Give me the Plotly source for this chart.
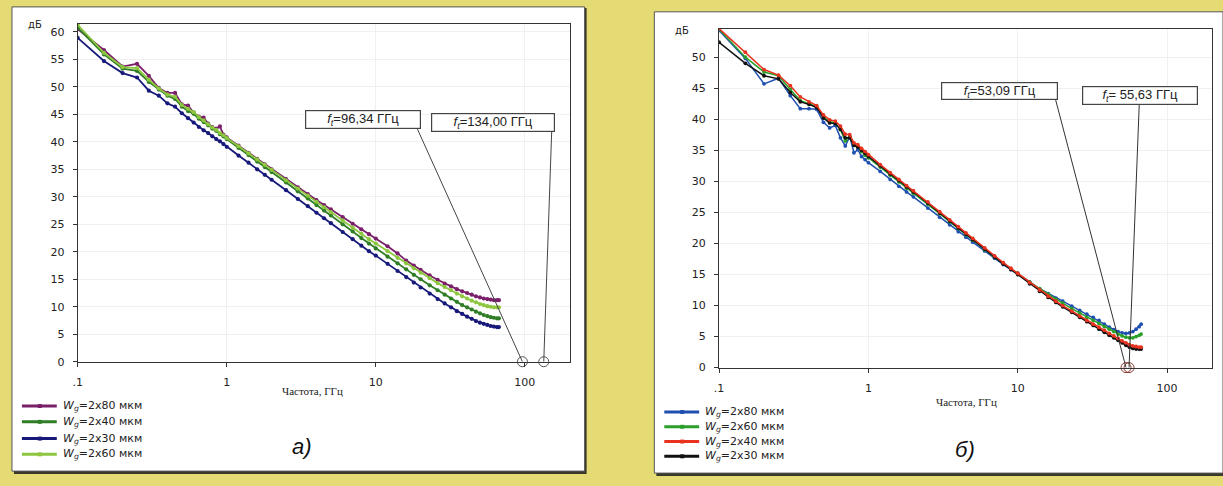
import math
import plotly.graph_objects as go

# ---------------- data ----------------
freq = [0.1, 0.15, 0.2, 0.25, 0.3, 0.35, 0.4, 0.45, 0.5, 0.55, 0.6, 0.65, 0.7, 0.75,
        0.8, 0.85, 0.9, 0.95, 1.0, 1.2, 1.4, 1.6, 1.8, 2.0, 2.5, 3.0, 3.5, 4.0, 4.5,
        5.0, 6, 7, 8, 9, 10, 12, 14, 16, 18, 20, 23, 26, 29, 32, 35, 38, 41, 44, 47,
        50, 53, 56, 59, 62, 65, 67]

# panel a)
a_names = ["2x80", "2x40", "2x30", "2x60"]
a_wg80 = [60.5, 56.7, 53.7, 54.2, 52.0, 49.8, 48.9, 48.9, 46.8, 46.6, 45.3, 44.6, 44.4, 43.3,
          42.7, 42.4, 42.8, 41.3, 40.8, 39.3, 38.0, 36.9, 35.9, 35.0, 33.2, 31.7, 30.5, 29.4, 28.5,
          27.7, 26.3, 25.1, 24.1, 23.2, 22.4, 21.0, 19.7, 18.4, 17.5, 16.7, 15.7, 14.9, 14.2, 13.7,
          13.2, 12.8, 12.5, 12.2, 11.9, 11.7, 11.5, 11.4, 11.3, 11.2, 11.2, 11.2]
a_wg40 = [60.8, 55.9, 53.3, 52.9, 50.9, 49.5, 48.4, 47.8, 46.4, 45.6, 45.1, 44.2, 43.6, 43.0,
          42.4, 42.0, 41.4, 41.0, 40.5, 38.9, 37.6, 36.4, 35.4, 34.5, 32.6, 31.0, 29.7, 28.5, 27.5,
          26.6, 25.0, 23.7, 22.5, 21.5, 20.6, 19.1, 17.9, 16.8, 15.8, 15.0, 13.9, 13.0, 12.2, 11.5,
          10.9, 10.3, 9.9, 9.5, 9.1, 8.8, 8.5, 8.3, 8.1, 8.0, 7.9, 7.9]
a_wg30 = [58.9, 54.7, 52.5, 51.7, 49.3, 48.4, 47.0, 46.4, 45.2, 44.3, 43.5, 42.7, 42.1, 41.6,
          41.0, 40.5, 40.1, 39.6, 39.1, 37.5, 36.2, 35.0, 34.0, 33.1, 31.2, 29.6, 28.3, 27.1, 26.1,
          25.2, 23.6, 22.3, 21.1, 20.1, 19.3, 17.8, 16.5, 15.4, 14.4, 13.5, 12.4, 11.4, 10.6, 9.9,
          9.2, 8.7, 8.2, 7.8, 7.4, 7.1, 6.9, 6.7, 6.5, 6.4, 6.3, 6.3]
a_wg60 = [61.3, 56.2, 53.6, 53.4, 51.3, 49.7, 48.6, 48.2, 46.7, 46.0, 45.4, 44.5, 43.9, 43.2,
          42.6, 42.2, 41.6, 41.2, 40.7, 39.2, 37.9, 36.8, 35.8, 34.9, 33.0, 31.5, 30.2, 29.1, 28.1,
          27.2, 25.7, 24.4, 23.3, 22.3, 21.5, 20.1, 18.9, 17.9, 17.0, 16.2, 15.2, 14.3, 13.6, 13.0,
          12.4, 11.9, 11.5, 11.1, 10.8, 10.5, 10.3, 10.1, 10.0, 9.9, 9.9, 9.9]
a_ft = [96.34, 134.00]
a_ft_labels = ["96,34", "134,00"]

# panel б)
b_names = ["2x80", "2x60", "2x40", "2x30"]
b_wg80 = [54.3, 49.8, 45.7, 46.6, 43.8, 41.7, 41.7, 41.6, 39.5, 38.6, 39.0, 37.0, 35.7, 37.2,
          34.6, 35.1, 34.0, 33.5, 33.0, 31.6, 30.3, 29.2, 28.3, 27.5, 25.7, 24.2, 23.0, 21.9, 21.0,
          20.2, 18.8, 17.6, 16.6, 15.8, 15.1, 13.8, 12.7, 11.9, 11.2, 10.7, 9.9, 9.2, 8.6, 8.1,
          7.6, 7.0, 6.5, 6.1, 5.8, 5.6, 5.5, 5.6, 5.8, 6.2, 6.6, 7.0]
b_wg60 = [54.5, 50.0, 47.6, 47.0, 44.8, 43.0, 42.5, 42.0, 40.4, 39.6, 39.4, 38.3, 36.5, 37.2,
          35.8, 35.6, 34.8, 34.2, 33.8, 32.3, 31.0, 29.9, 28.9, 28.1, 26.3, 24.8, 23.5, 22.4, 21.4,
          20.5, 19.0, 17.8, 16.8, 15.9, 15.2, 13.8, 12.7, 11.8, 11.0, 10.4, 9.5, 8.8, 8.1, 7.6,
          7.1, 6.6, 6.2, 5.8, 5.4, 5.1, 4.9, 4.8, 4.8, 5.0, 5.2, 5.4]
b_wg40 = [54.6, 50.8, 48.0, 47.1, 45.4, 43.6, 42.8, 42.2, 40.7, 39.9, 39.7, 38.9, 37.6, 37.5,
          36.2, 35.9, 35.3, 34.8, 34.3, 32.7, 31.4, 30.3, 29.3, 28.5, 26.7, 25.1, 23.8, 22.7, 21.7,
          20.8, 19.3, 18.0, 16.9, 16.0, 15.2, 13.7, 12.5, 11.5, 10.7, 10.0, 9.1, 8.3, 7.6, 7.0,
          6.5, 6.0, 5.5, 5.1, 4.7, 4.3, 4.0, 3.7, 3.5, 3.4, 3.3, 3.3]
b_wg30 = [52.4, 49.0, 47.0, 46.5, 44.3, 42.8, 42.4, 41.9, 40.2, 39.4, 39.3, 38.4, 37.0, 37.0,
          35.8, 35.5, 35.0, 34.5, 34.0, 32.5, 31.2, 30.1, 29.1, 28.3, 26.5, 24.9, 23.6, 22.5, 21.5,
          20.6, 19.1, 17.8, 16.7, 15.8, 15.0, 13.5, 12.3, 11.3, 10.5, 9.8, 8.9, 8.1, 7.4, 6.8,
          6.2, 5.7, 5.2, 4.8, 4.4, 4.0, 3.6, 3.3, 3.1, 3.0, 3.0, 3.0]
b_ft = [53.09, 55.63]
b_ft_labels = ["53,09", "55,63"]

x_ticks = [0.1, 1, 10, 100]
x_ticktext = [".1", "1", "10", "100"]

# ---------------- styling ----------------
W, H = 1223, 486
def PX(x): return x / W
def PY(y): return 1 - y / H

a_colors = ["#7a1f6a", "#2f7d25", "#17197a", "#8dc63f"]
b_colors = ["#1f4fb0", "#2aa02a", "#e8321e", "#111111"]
a_order = [0, 1, 2, 3]
b_order = [0, 1, 3, 2]

fig = go.Figure()

a_series = [a_wg80, a_wg40, a_wg30, a_wg60]
b_series = [b_wg80, b_wg60, b_wg40, b_wg30]

for i in a_order:
    fig.add_trace(go.Scatter(x=freq, y=a_series[i], mode="lines+markers",
                             line=dict(color=a_colors[i], width=1.8),
                             marker=dict(color=a_colors[i], size=4.2),
                             xaxis="x", yaxis="y", showlegend=False))
for i in b_order:
    fig.add_trace(go.Scatter(x=freq, y=b_series[i], mode="lines+markers",
                             line=dict(color=b_colors[i], width=1.5),
                             marker=dict(color=b_colors[i], size=3.8),
                             xaxis="x2", yaxis="y2", showlegend=False))

# f_t circles
fig.add_trace(go.Scatter(x=a_ft, y=[0, 0], mode="markers", cliponaxis=False,
                         marker=dict(symbol="circle-open", size=10, color="#555", line=dict(width=1)),
                         xaxis="x", yaxis="y", showlegend=False))
fig.add_trace(go.Scatter(x=b_ft, y=[0, 0], mode="markers", cliponaxis=False,
                         marker=dict(symbol="circle-open", size=10, color="#8a3a30", line=dict(width=1)),
                         xaxis="x2", yaxis="y2", showlegend=False))

shapes = []
# yellow-framed white panels with shadow
for (x0, y0, x1, y1) in [(7, 7, 582, 478), (652, 12, 1223, 480)]:
    shapes.append(dict(type="rect", xref="paper", yref="paper", layer="below",
                       x0=PX(x0 + 2), x1=PX(x1 + 2), y0=PY(y1 + 3), y1=PY(y0 + 1),
                       fillcolor="#3a3a2a", line=dict(width=0)))
    shapes.append(dict(type="rect", xref="paper", yref="paper", layer="below",
                       x0=PX(x0), x1=PX(x1), y0=PY(y1), y1=PY(y0),
                       fillcolor="white", line=dict(color="#555", width=1)))

# leader lines (label corner given in data space of each panel)
a_corners = [(19.05, 42.3), (151.4, 41.8)]
b_corners = [(17.9, 43.2), (65.1, 42.4)]
for ft, (cx, cy) in zip(a_ft, a_corners):
    shapes.append(dict(type="line", xref="x", yref="y", x0=ft, y0=0, x1=cx, y1=cy,
                       line=dict(color="#444", width=1)))
for ft, (cx, cy) in zip(b_ft, b_corners):
    shapes.append(dict(type="line", xref="x2", yref="y2", x0=ft, y0=0, x1=cx, y1=cy,
                       line=dict(color="#333", width=1)))

annotations = []
# f_t label boxes: (left, top, right, bottom) in pixels
a_boxes = [(301, 112, 417, 131), (428, 115, 552, 134)]
b_boxes = [(940, 83, 1057, 101), (1082, 87, 1198, 106)]
for lab, (l, t, r, b) in zip(a_ft_labels, a_boxes):
    annotations.append(dict(xref="paper", yref="paper", x=PX((l + r) / 2), y=PY((t + b) / 2),
                            xanchor="center", yanchor="middle", showarrow=False,
                            text="<i>f<sub>t</sub></i>=" + lab + " ГГц",
                            width=r - l - 4, height=b - t - 4, bgcolor="white",
                            bordercolor="#444", borderwidth=1.2, borderpad=1,
                            font=dict(family="Liberation Sans", size=13, color="#222")))
for k, (lab, (l, t, r, b)) in enumerate(zip(b_ft_labels, b_boxes)):
    sep = "=" if k == 0 else "= "
    annotations.append(dict(xref="paper", yref="paper", x=PX((l + r) / 2), y=PY((t + b) / 2),
                            xanchor="center", yanchor="middle", showarrow=False,
                            text="<i>f<sub>t</sub></i>" + sep + lab + " ГГц",
                            width=r - l - 4, height=b - t - 4, bgcolor="white",
                            bordercolor="#444", borderwidth=1.2, borderpad=1,
                            font=dict(family="Liberation Sans", size=13, color="#222")))

# axis captions
for (x, y) in [(30, 25), (680, 31)]:
    annotations.append(dict(xref="paper", yref="paper", x=PX(x), y=PY(y), showarrow=False,
                            xanchor="center", yanchor="middle", text="дБ",
                            font=dict(family="DejaVu Sans", size=10, color="#222")))
for (x, y) in [(309, 397), (965, 408)]:
    annotations.append(dict(xref="paper", yref="paper", x=PX(x), y=PY(y), showarrow=False,
                            xanchor="center", yanchor="middle", text="Частота, ГГц",
                            font=dict(family="Liberation Serif", size=11, color="#222")))
for (x, y, t) in [(298, 453, "а)"), (964, 456, "б)")]:
    annotations.append(dict(xref="paper", yref="paper", x=PX(x), y=PY(y), showarrow=False,
                            xanchor="center", yanchor="middle", text="<i>" + t + "</i>",
                            font=dict(family="Liberation Sans", size=22, color="#111")))

# manual legends
def legend(names, colors, x0, ys):
    for nm, col, y in zip(names, colors, ys):
        shapes.append(dict(type="line", xref="paper", yref="paper",
                           x0=PX(x0), x1=PX(x0 + 35), y0=PY(y), y1=PY(y),
                           line=dict(color=col, width=3)))
        shapes.append(dict(type="rect", xref="paper", yref="paper",
                           x0=PX(x0 + 16), x1=PX(x0 + 20), y0=PY(y + 2), y1=PY(y - 2),
                           fillcolor=col, line=dict(width=0)))
        annotations.append(dict(xref="paper", yref="paper", x=PX(x0 + 39), y=PY(y),
                                xanchor="left", yanchor="middle", showarrow=False,
                                text="<i>W<sub>g</sub></i>=" + nm + " мкм",
                                font=dict(family="DejaVu Sans", size=11, color="#222")))

legend(a_names, a_colors, 17, [412, 428, 445, 461])
legend(b_names, b_colors, 662, [418, 433, 448, 463])

axis_common = dict(showline=True, mirror=True, linecolor="#333", linewidth=1.2,
                   ticks="outside", ticklen=4, tickcolor="#333", showgrid=True,
                   gridcolor="#f0f0f0", zeroline=False,
                   tickfont=dict(family="DejaVu Sans", size=11, color="#222"))
xr = [-1, math.log10(200)]
fig.update_layout(
    width=W, height=H, margin=dict(l=0, r=0, t=0, b=0),
    paper_bgcolor="#e4db74", plot_bgcolor="white",
    shapes=shapes, annotations=annotations,
    xaxis=dict(type="log", range=xr, domain=[PX(73), PX(567)], anchor="y",
               tickvals=x_ticks, ticktext=x_ticktext, ticklabelstandoff=6, **axis_common),
    yaxis=dict(range=[0, 61.5], domain=[PY(367), PY(24)], anchor="x",
               tick0=0, dtick=5, ticklabelstandoff=6, **axis_common),
    xaxis2=dict(type="log", range=xr, domain=[PX(717), PX(1212)], anchor="y2",
                tickvals=x_ticks, ticktext=x_ticktext, ticklabelstandoff=6, **axis_common),
    yaxis2=dict(range=[0, 54.6], domain=[PY(373), PY(29)], anchor="x2",
                tick0=0, dtick=5, ticklabelstandoff=6, **axis_common),
)

fig.write_html("out.html", config={"displayModeBar": False},
               post_script="document.body.style.margin='0';document.body.style.overflow='hidden';")
